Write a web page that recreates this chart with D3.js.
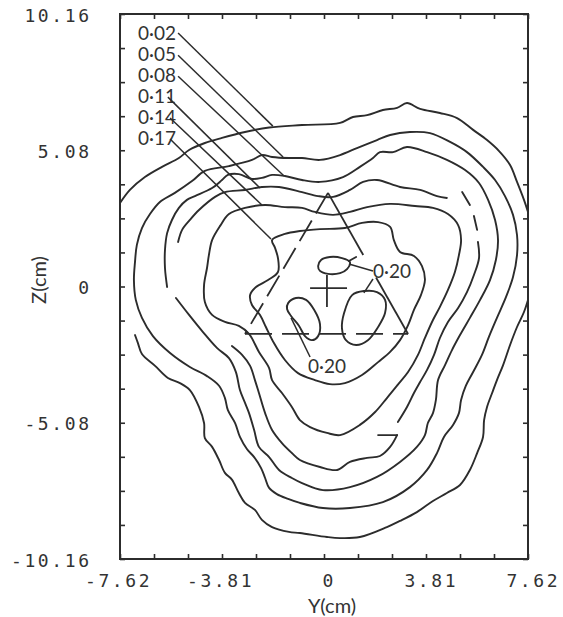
<!DOCTYPE html>
<html>
<head>
<meta charset="utf-8">
<script src="https://cdn.jsdelivr.net/npm/d3@7"></script>
<style>
  html, body { margin: 0; padding: 0; background: #fff; }
  svg { display: block; }
</style>
</head>
<body>
<svg id="chart" width="563" height="617"></svg>
<script>
// ---- axes (cm) ----
const yLimits = [-7.62, 7.62];     // horizontal axis: Y(cm)
const zLimits = [-10.16, 10.16];   // vertical axis:   Z(cm)
const tickStep = 1.27;
const xTickLabels = ["-7.62", "-3.81", "0", "3.81", "7.62"];
const yTickLabels = ["-10.16", "-5.08", "0", "5.08", "10.16"];

// ---- contour lines, [Y, Z] in cm ----
const levelNames = ["0·02", "0·05", "0·08", "0·11", "0·14", "0·17", "0·20"];

const c002Upper = [[-7.62,3.11],[-7.25,3.60],[-6.69,4.08],[-6.05,4.46],[-5.42,4.79],[-5.04,5.09],[-4.45,5.35],[-3.81,5.54],[-2.95,5.76],[-2.05,5.93],[-0.82,6.02],[0.60,6.10],[1.08,6.32],[1.61,6.39],[2.20,6.58],[2.73,6.66],[3.10,6.84],[3.59,6.62],[4.33,6.47],[4.97,6.28],[5.57,5.84],[6.09,5.46],[6.54,5.05],[6.95,4.53],[7.21,3.90],[7.47,3.23],[7.62,2.78]];
const c002Lower = [[7.62,-0.50],[7.47,-0.95],[7.21,-1.51],[6.95,-2.18],[6.69,-2.93],[6.46,-3.49],[6.28,-3.97],[6.09,-4.49],[5.98,-4.98],[5.94,-5.61],[5.72,-6.21],[5.45,-6.84],[5.08,-7.40],[4.59,-7.70],[4.07,-8.00],[3.47,-8.41],[2.84,-8.74],[2.35,-8.97],[1.34,-9.34],[0.60,-9.38],[0.11,-9.34],[-0.90,-9.19],[-1.31,-9.15],[-1.94,-8.97],[-2.32,-8.70],[-2.58,-8.33],[-2.95,-8.07],[-3.18,-7.70],[-3.44,-7.20],[-3.70,-6.95],[-3.92,-6.47],[-4.18,-5.98],[-4.45,-5.65],[-4.48,-5.09],[-4.67,-4.49],[-5.01,-3.86],[-5.38,-3.60],[-5.83,-3.41],[-6.31,-2.96],[-6.80,-2.52],[-6.95,-2.11],[-7.06,-1.81]];

const c005 = [[-7.10,0.24],[-7.06,0.91],[-6.99,1.55],[-6.80,2.18],[-6.50,2.70],[-6.13,3.15],[-5.57,3.49],[-4.93,3.93],[-4.45,4.31],[-3.55,4.49],[-2.69,4.72],[-2.32,4.90],[-1.94,4.83],[-1.31,4.79],[-0.82,4.79],[-0.15,4.72],[0.60,4.90],[1.23,5.16],[1.98,5.46],[2.47,5.65],[3.21,5.76],[3.96,5.72],[4.71,5.39],[5.34,5.01],[5.94,4.46],[6.39,3.97],[6.76,3.37],[7.06,2.67],[7.21,1.92],[7.21,1.17],[7.06,0.35],[6.80,-0.39],[6.46,-1.17],[6.16,-1.88],[5.90,-2.55],[5.57,-3.19],[5.30,-3.70],[5.12,-4.23],[5.04,-4.72],[4.82,-5.16],[4.48,-5.61],[4.22,-6.21],[3.85,-6.84],[3.21,-7.48],[2.20,-8.04],[0.97,-8.26],[-0.04,-8.26],[-0.90,-8.07],[-1.34,-7.92],[-1.76,-7.74],[-2.05,-7.51],[-2.20,-7.14],[-2.35,-6.77],[-2.61,-6.36],[-2.88,-6.06],[-3.14,-5.61],[-3.32,-5.09],[-3.59,-4.61],[-3.70,-4.16],[-3.92,-3.70],[-4.37,-3.34],[-5.01,-3.00],[-5.75,-2.48],[-6.39,-1.85],[-6.80,-1.17],[-7.03,-0.50]];

const c008 = [[-5.86,-0.02],[-5.94,0.69],[-5.94,1.36],[-5.86,1.99],[-5.68,2.48],[-5.42,2.93],[-5.12,3.23],[-4.82,3.37],[-4.18,3.67],[-3.81,3.97],[-3.59,4.16],[-3.18,4.19],[-2.69,4.01],[-2.32,4.05],[-1.94,4.16],[-1.46,4.12],[-0.82,3.97],[-0.15,3.90],[0.71,4.08],[1.34,4.46],[1.83,4.79],[2.09,5.01],[2.58,5.01],[3.10,5.20],[3.85,5.01],[4.59,4.72],[5.27,4.34],[5.79,3.86],[6.13,3.23],[6.39,2.48],[6.50,1.73],[6.42,0.99],[6.20,0.24],[5.83,-0.50],[5.45,-1.17],[5.08,-1.81],[4.78,-2.37],[4.52,-2.93],[4.26,-3.49],[4.18,-4.23],[4.07,-4.72],[3.88,-5.09],[3.77,-5.54],[3.47,-5.98],[2.84,-6.54],[1.98,-7.10],[0.97,-7.48],[-0.04,-7.59],[-0.82,-7.33],[-1.20,-7.14],[-1.68,-6.84],[-2.05,-6.36],[-2.43,-5.98],[-2.61,-5.35],[-2.80,-4.72],[-2.95,-4.34],[-3.14,-3.86],[-3.29,-3.19],[-3.55,-2.67],[-4.00,-2.29],[-4.52,-1.70],[-5.04,-1.06],[-5.53,-0.43]];

const c011Top = [[-5.45,1.66],[-5.30,2.11],[-5.01,2.48],[-4.67,2.85],[-4.07,3.34],[-3.70,3.52],[-2.95,3.60],[-2.32,3.71],[-1.68,3.71],[-0.82,3.52],[-0.22,3.37],[0.34,3.34],[0.97,3.60],[1.46,3.90],[1.98,3.97],[2.84,3.71],[3.59,3.60],[4.22,3.37],[4.59,3.30]];
const c011Dash1 = [[5.16,3.52],[5.45,3.04]];
const c011Dash2 = [[5.60,2.63],[5.72,2.11]];
const c011Right = [[5.75,1.66],[5.79,1.06],[5.60,0.43],[5.34,-0.21],[5.01,-0.80],[4.63,-1.32],[4.33,-1.92],[4.11,-2.55],[3.85,-3.11],[3.59,-3.56],[3.36,-3.97],[3.10,-4.49],[2.76,-5.05]];
const c011Hook = [[2.02,-5.54],[2.73,-5.54]];
const c011Bottom = [[2.73,-5.54],[2.47,-5.98],[2.09,-6.32],[1.61,-6.39],[0.97,-6.54],[0.49,-6.84],[-0.15,-6.73],[-0.90,-6.47],[-1.20,-6.21],[-1.57,-5.84],[-1.94,-5.35],[-2.20,-4.72],[-2.43,-3.97],[-2.58,-3.49],[-2.76,-2.96],[-3.06,-2.55],[-3.44,-2.22]];

const c014 = [[-3.88,2.26],[-3.55,2.70],[-2.95,2.93],[-2.20,3.04],[-1.46,2.96],[-0.82,2.93],[-0.34,2.78],[0.34,2.67],[0.97,2.78],[1.61,2.96],[2.47,3.08],[3.40,3.00],[4.07,2.93],[4.63,2.70],[5.01,2.29],[5.12,1.73],[5.04,1.17],[4.89,0.54],[4.63,-0.13],[4.33,-0.76],[4.07,-1.25],[3.77,-1.92],[3.51,-2.55],[3.14,-3.19],[2.76,-3.66],[2.35,-4.16],[1.91,-4.68],[1.34,-5.16],[0.60,-5.54],[0.11,-5.46],[-0.52,-5.24],[-0.90,-4.98],[-1.20,-4.49],[-1.57,-3.97],[-1.94,-3.49],[-2.05,-3.04],[-2.43,-2.44],[-2.80,-1.77],[-3.18,-1.47],[-3.70,-1.32],[-4.18,-1.06],[-4.45,-0.58],[-4.48,0.06],[-4.37,0.69],[-4.30,1.17],[-4.18,1.73]];

const c017 = [[-1.94,1.73],[-1.46,1.96],[-0.90,2.07],[-0.15,2.14],[0.78,2.18],[1.42,2.37],[2.02,2.40],[2.47,2.22],[2.61,1.73],[2.84,1.29],[3.36,1.14],[3.66,0.76],[3.77,0.24],[3.62,-0.32],[3.36,-0.87],[3.14,-1.44],[2.84,-2.00],[2.47,-2.44],[2.02,-2.82],[1.42,-3.30],[0.78,-3.60],[0.22,-3.64],[-0.34,-3.49],[-0.97,-3.23],[-1.46,-2.74],[-1.87,-2.11],[-2.17,-1.51],[-2.39,-1.06],[-2.69,-0.69],[-2.76,-0.32],[-2.54,-0.02],[-2.09,0.24],[-1.72,0.54],[-1.72,1.06],[-1.83,1.44]];

const c020Upper = [[-0.22,0.76],[-0.11,0.99],[0.22,1.10],[0.67,1.06],[0.97,0.91],[0.86,0.65],[0.60,0.50],[0.15,0.47],[-0.15,0.58]];
const c020UpperTail = [[0.93,0.95],[1.20,1.10]];
const c020Left = [[-1.34,-0.62],[-1.05,-0.43],[-0.67,-0.50],[-0.37,-0.87],[-0.15,-1.40],[-0.22,-1.85],[-0.45,-2.00],[-0.71,-1.85],[-0.93,-1.47],[-1.23,-1.10],[-1.38,-0.84]];
const c020Right = [[1.05,-0.32],[1.49,-0.17],[1.98,-0.21],[2.28,-0.50],[2.28,-0.99],[2.02,-1.51],[1.64,-2.00],[1.20,-2.18],[0.82,-2.00],[0.67,-1.55],[0.75,-0.99]];

// ---- reference geometry: jet triangle and centre mark (cm) ----
const triangle = [[0.15,3.49],[-2.95,-1.77],[3.14,-1.77]];   // apex, lower-left, lower-right
const rightSideGap = [0.44, 0.60];                            // fraction along apex -> lower-right left open for the label
const crossH = [[-0.52,-0.06],[0.86,-0.06]];
const crossV = [[0.11,0.43],[0.11,-0.76]];

// ---- level labels and their leader lines (cm) ----
const outerLabelY = -6.95;
const outerLabelZ = [9.19, 8.40, 7.62, 6.84, 6.06, 5.28];
const outerLeaders = [
  [[-5.45,9.45],[-1.91,5.98]],
  [[-5.45,8.62],[-1.53,4.83]],
  [[-5.45,7.84],[-1.49,4.12]],
  [[-5.83,7.06],[-2.39,3.67]],
  [[-5.75,6.28],[-2.32,3.04]],
  [[-5.75,5.50],[-1.98,1.77]]
];
const innerLabels = [[1.83,0.32],[-0.60,-3.23]];
const innerLeaders = [
  [[1.83,0.58],[0.93,0.84]],
  [[1.83,0.28],[1.49,-0.24]],
  [[-0.52,-2.63],[-1.23,-1.17]]
];

// ---- drawing ----
const svg = d3.select("#chart");
const x = d3.scaleLinear().domain(yLimits).range([120, 528]);
const y = d3.scaleLinear().domain(zLimits).range([559, 14]);
const ink = "#2c2c2c";

svg.append("rect").attr("width", 563).attr("height", 617).attr("fill", "#fff");

svg.append("defs").append("clipPath").attr("id", "plotClip")
  .append("rect")
  .attr("x", x(yLimits[0])).attr("y", y(zLimits[1]))
  .attr("width", x(yLimits[1]) - x(yLimits[0]))
  .attr("height", y(zLimits[0]) - y(zLimits[1]));

// ticks on all four sides, pointing inward
const xTicks = d3.range(Math.round((yLimits[1] - yLimits[0]) / tickStep) + 1).map(i => yLimits[0] + i * tickStep);
const yTicks = d3.range(Math.round((zLimits[1] - zLimits[0]) / tickStep) + 1).map(i => zLimits[0] + i * tickStep);

function styleAxis(g) {
  g.select(".domain").remove();
  g.selectAll(".tick line").attr("stroke", ink).attr("stroke-width", 1.6);
}
svg.append("g").attr("transform", `translate(0,${y(zLimits[0])})`)
  .call(d3.axisBottom(x).tickValues(xTicks).tickSizeInner(-5).tickSizeOuter(0).tickFormat(""))
  .call(styleAxis);
svg.append("g").attr("transform", `translate(0,${y(zLimits[1])})`)
  .call(d3.axisTop(x).tickValues(xTicks).tickSizeInner(-5).tickSizeOuter(0).tickFormat(""))
  .call(styleAxis);
svg.append("g").attr("transform", `translate(${x(yLimits[0])},0)`)
  .call(d3.axisLeft(y).tickValues(yTicks).tickSizeInner(-5).tickSizeOuter(0).tickFormat(""))
  .call(styleAxis);
svg.append("g").attr("transform", `translate(${x(yLimits[1])},0)`)
  .call(d3.axisRight(y).tickValues(yTicks).tickSizeInner(-5).tickSizeOuter(0).tickFormat(""))
  .call(styleAxis);

// frame
svg.append("rect")
  .attr("x", x(yLimits[0])).attr("y", y(zLimits[1]))
  .attr("width", x(yLimits[1]) - x(yLimits[0]))
  .attr("height", y(zLimits[0]) - y(zLimits[1]))
  .attr("fill", "none").attr("stroke", ink).attr("stroke-width", 2);

// tick labels in a plotter-style monospace
const tickFont = { family: "'DejaVu Sans Mono', monospace", size: 18, spacing: 2.6 };
const monoAdvance = tickFont.size * 0.602 + tickFont.spacing;
const xLab = svg.append("g").attr("fill", "#333")
  .attr("font-family", tickFont.family).attr("font-size", tickFont.size)
  .style("letter-spacing", tickFont.spacing + "px");
xTickLabels.forEach(s => {
  const v = +s;
  const neg = s.startsWith("-");
  const body = neg ? s.slice(1) : s;
  const cx = x(v) + 4;
  const start = cx - (body.length * monoAdvance - tickFont.spacing) / 2 - (neg ? monoAdvance : 0);
  xLab.append("text").attr("x", start).attr("y", 587).text(s);
});
const yLab = svg.append("g").attr("fill", "#333")
  .attr("font-family", tickFont.family).attr("font-size", tickFont.size)
  .style("letter-spacing", tickFont.spacing + "px");
yTickLabels.forEach(s => {
  const v = +s;
  const w = s.length * monoAdvance - tickFont.spacing;
  yLab.append("text").attr("x", 89 - w).attr("y", y(v) + 7.5).text(s);
});

// axis titles
svg.append("text").attr("x", 332).attr("y", 613).attr("text-anchor", "middle")
  .attr("font-family", "Lato, 'Open Sans', sans-serif").attr("font-size", 20).attr("fill", "#333")
  .text("Y(cm)");
svg.append("text").attr("transform", "translate(46,280) rotate(-90)").attr("text-anchor", "middle")
  .attr("font-family", "Lato, 'Open Sans', sans-serif").attr("font-size", 20).attr("fill", "#333")
  .text("Z(cm)");

// contours
const plot = svg.append("g").attr("clip-path", "url(#plotClip)");
const openLine = d3.line().x(d => x(d[0])).y(d => y(d[1])).curve(d3.curveCatmullRom.alpha(0.5));
const closedLine = d3.line().x(d => x(d[0])).y(d => y(d[1])).curve(d3.curveCatmullRomClosed.alpha(0.5));

const openPieces = [c002Upper, c002Lower, c008, c011Top, c011Dash1, c011Dash2, c011Right, c011Hook, c011Bottom, c020UpperTail];
const closedPieces = [c005, c014, c017, c020Upper, c020Left, c020Right];

plot.selectAll("path.open").data(openPieces).join("path")
  .attr("class", "open").attr("d", openLine)
  .attr("fill", "none").attr("stroke", ink).attr("stroke-width", 1.9)
  .attr("stroke-linejoin", "round").attr("stroke-linecap", "round");
plot.selectAll("path.closed").data(closedPieces).join("path")
  .attr("class", "closed").attr("d", closedLine)
  .attr("fill", "none").attr("stroke", ink).attr("stroke-width", 1.9)
  .attr("stroke-linejoin", "round");

// jet triangle: dashed left side and base, right side broken under the label
const [apex, lowL, lowR] = triangle;
const along = (a, b, t) => [a[0] + (b[0] - a[0]) * t, a[1] + (b[1] - a[1]) * t];
const seg = (a, b) => plot.append("line")
  .attr("x1", x(a[0])).attr("y1", y(a[1])).attr("x2", x(b[0])).attr("y2", y(b[1]))
  .attr("stroke", ink).attr("stroke-width", 1.8);
seg(apex, lowL).attr("stroke-dasharray", "24,8");
seg(lowL, lowR).attr("stroke-dasharray", "27,10");
seg(apex, along(apex, lowR, rightSideGap[0]));
seg(along(apex, lowR, rightSideGap[1]), lowR);

// centre mark
seg(crossH[0], crossH[1]);
seg(crossV[0], crossV[1]);

// level labels and leaders
const labelFont = "Lato, 'Open Sans', sans-serif";
outerLabelZ.forEach((z, i) => {
  svg.append("text").attr("x", x(outerLabelY)).attr("y", y(z))
    .attr("font-family", labelFont).attr("font-size", 19).attr("fill", "#333")
    .text(levelNames[i]);
});
innerLabels.forEach(p => {
  svg.append("text").attr("x", x(p[0])).attr("y", y(p[1]))
    .attr("font-family", labelFont).attr("font-size", 19).attr("fill", "#333")
    .text(levelNames[6]);
});
outerLeaders.concat(innerLeaders).forEach(l => {
  svg.append("line")
    .attr("x1", x(l[0][0])).attr("y1", y(l[0][1])).attr("x2", x(l[1][0])).attr("y2", y(l[1][1]))
    .attr("stroke", ink).attr("stroke-width", 1.5);
});
</script>
</body>
</html>
